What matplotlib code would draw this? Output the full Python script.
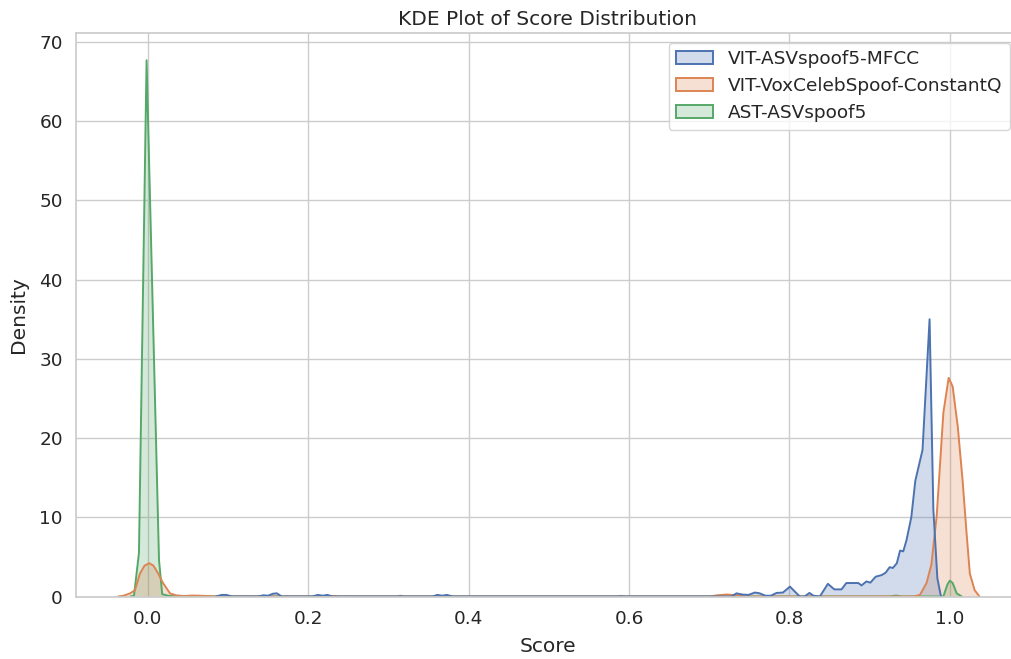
import matplotlib
matplotlib.use("Agg")
import matplotlib.pyplot as plt
import seaborn as sns
from matplotlib.patches import Patch

# curves (score, density)
blue_x = [0.085, 0.092, 0.098, 0.105, 0.138, 0.144, 0.150, 0.156, 0.161, 0.167,
          0.205, 0.212, 0.218, 0.224, 0.230, 0.355, 0.361, 0.367, 0.373, 0.380,
          0.728, 0.734, 0.741, 0.749, 0.757, 0.763, 0.770, 0.777, 0.784, 0.792,
          0.8007, 0.807, 0.813, 0.819, 0.825, 0.830, 0.838, 0.848, 0.856, 0.865,
          0.871, 0.880, 0.886, 0.890, 0.896, 0.901, 0.9076, 0.915, 0.920, 0.925,
          0.929, 0.934, 0.938, 0.942, 0.946, 0.952, 0.957, 0.966, 0.9748, 0.9795,
          0.9845, 0.989]
blue_y = [0.0, 0.2, 0.2, 0.0, 0.0, 0.15, 0.1, 0.35, 0.4, 0.0,
          0.0, 0.2, 0.1, 0.2, 0.0, 0.0, 0.2, 0.1, 0.2, 0.0,
          0.0, 0.4, 0.25, 0.2, 0.5, 0.4, 0.1, 0.1, 0.45, 0.5,
          1.25, 0.6, 0.0, 0.0, 0.45, 0.1, 0.0, 1.6, 0.9, 0.9,
          1.7, 1.7, 1.7, 1.4, 1.9, 1.75, 2.5, 2.7, 3.0, 3.7,
          3.6, 4.2, 5.8, 5.7, 7.1, 10.0, 14.6, 18.5, 35.0, 11.0,
          2.3, 0.0]

orange_x = [-0.037, -0.03, -0.022, -0.016, -0.0097, -0.004, 0.0019, 0.007, 0.013, 0.019,
            0.0277, 0.035, 0.045, 0.055, 0.065, 0.08, 0.1, 0.22, 0.23, 0.24,
            0.70, 0.71, 0.722, 0.735, 0.745, 0.955, 0.9628, 0.971, 0.977, 0.9837,
            0.992, 0.9986, 1.0036, 1.010, 1.016, 1.021, 1.025, 1.031, 1.037]
orange_y = [0.0, 0.1, 0.4, 0.8, 2.9, 3.9, 4.2, 3.9, 2.9, 1.7,
            0.4, 0.15, 0.05, 0.12, 0.1, 0.03, 0.0, 0.0, 0.08, 0.0,
            0.0, 0.15, 0.25, 0.15, 0.0, 0.0, 0.2, 1.7, 4.0, 10.2,
            23.2, 27.6, 26.5, 21.4, 14.6, 7.9, 2.9, 0.8, 0.0]

green_x = [-0.022, -0.0172, -0.011, -0.0015, 0.0063, 0.014, 0.018, 0.025, 0.035, 0.31,
           0.315, 0.32, 0.585, 0.59, 0.595, 0.925, 0.933, 0.94, 0.992, 0.997,
           1.0, 1.0036, 1.0086, 1.015]
green_y = [0.0, 0.1, 5.5, 67.7, 35.9, 4.6, 0.3, 0.1, 0.02, 0.0,
           0.1, 0.0, 0.0, 0.08, 0.0, 0.0, 0.12, 0.0, 0.0, 1.5,
           2.0, 1.7, 0.4, 0.0]

labels = ["VIT-ASVspoof5-MFCC", "VIT-VoxCelebSpoof-ConstantQ", "AST-ASVspoof5"]
colors = ["#4c72b0", "#dd8452", "#55a868"]

sns.set_theme(style="whitegrid", font_scale=1.21)

fig = plt.figure(figsize=(10.11, 6.59), dpi=100)
# axes runs a bit past the right edge, like the cropped original
ax = fig.add_axes([76 / 1011, 62.5 / 659, 943 / 1011, 563.2 / 659])

series = [(blue_x, blue_y), (orange_x, orange_y), (green_x, green_y)]
# seaborn draws the hue levels in reverse order
for (xs, ys), c in reversed(list(zip(series, colors))):
    ax.fill_between(xs, ys, 0, facecolor=c, alpha=0.25, lw=0)
    ax.plot(xs, ys, color=c, lw=1.4)

ax.set_xlim(-0.0895, 1.0863)
ax.set_ylim(0, 71.1)
ax.set_xticks([0.0, 0.2, 0.4, 0.6, 0.8, 1.0])
ax.set_yticks(range(0, 71, 10))

ax.set_title("KDE Plot of Score Distribution")
ax.set_xlabel("Score", labelpad=7)
ax.set_ylabel("Density", labelpad=8)

handles = [Patch(facecolor=matplotlib.colors.to_rgba(c, 0.25), edgecolor=c, lw=1.4)
           for c in colors]
ax.legend(handles, labels, loc="upper right")

fig.savefig("out.png", dpi=100)
